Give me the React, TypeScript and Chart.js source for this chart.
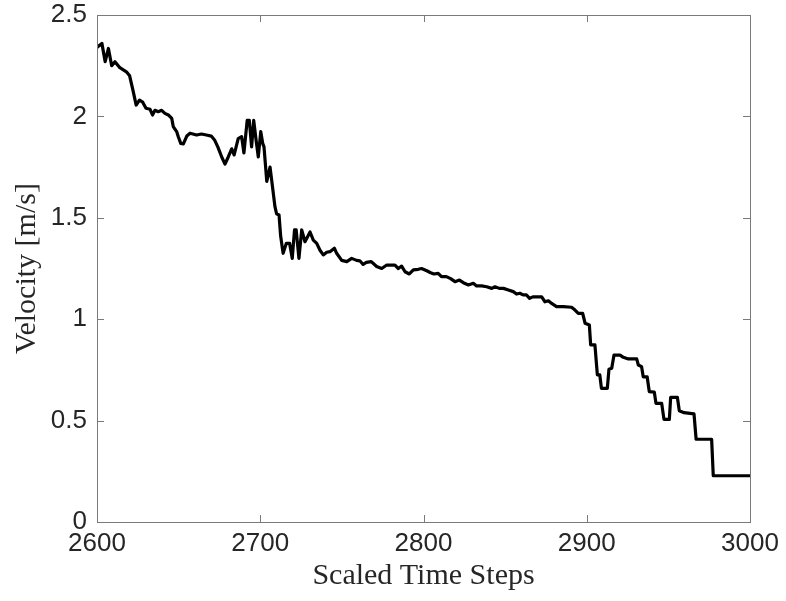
import React, { useEffect, useRef } from "react";
import { Chart, registerables } from "chart.js";

Chart.register(...registerables);

const timeSteps: number[] = [
  2600, 2603, 2605, 2607, 2609, 2611, 2614, 2618, 2620, 2622, 2624, 2626, 2628, 2630, 2632.5, 2634, 2635.5, 2637.5,
  2639.6, 2641.6, 2643.7, 2645.8, 2646.7, 2648.8, 2649.8, 2651.3, 2652.9, 2655, 2657, 2661, 2664, 2667, 2670, 2672,
  2674, 2676.4, 2678.4, 2680.4, 2682.5, 2684, 2686.5, 2688.6,
  2690, 2692, 2693.3, 2694.7, 2696, 2697.5, 2698.8, 2700.3, 2701.5, 2702.3, 2704, 2706, 2707, 2709, 2710, 2711.5,
  2712.5, 2714, 2716, 2718, 2719.6, 2721, 2722, 2723.7, 2725.4, 2727.4, 2730.5, 2732.5, 2734.6, 2736.6, 2738.6,
  2740.7, 2742.7, 2745.4, 2746.8, 2749.9, 2753, 2756, 2759, 2761, 2763, 2765, 2768, 2771.3, 2774.4, 2777.5,
  2782.5, 2784.6, 2786.6, 2788.7, 2791.3, 2793.8, 2796.8, 2798.8, 2802, 2804.4, 2806.4, 2809, 2811, 2814, 2816.6,
  2819.3, 2822, 2824.4, 2827.5, 2830.5, 2832.5, 2835.6, 2838.7, 2841.8, 2843.8, 2846.4, 2849, 2852, 2855, 2857,
  2859, 2861, 2863, 2865, 2867, 2872.4, 2874.4, 2876.5, 2878.5, 2881.5,
  2885.6, 2890.7, 2892.8, 2894.8, 2897.5, 2899, 2901.6, 2902.4, 2905, 2906.5, 2908, 2909, 2912.6, 2913.6, 2915.3,
  2916.7, 2920.4, 2922.4, 2925.5, 2930.6, 2931.6, 2933.6, 2934.6, 2937, 2938.3, 2941.4, 2942.4, 2945.9, 2947.3,
  2950.6, 2951.4, 2955.5, 2956.7, 2959.6, 2965.7, 2967, 2976.5, 2977.5, 3000,
];

const velocity: number[] = [
  2.34, 2.36, 2.27, 2.335, 2.25, 2.27, 2.24, 2.22, 2.2, 2.13, 2.056, 2.08, 2.07, 2.04, 2.035, 2.007, 2.03, 2.023,
  2.03, 2.015, 2.007, 1.99, 1.95, 1.925, 1.9, 1.867, 1.864, 1.903, 1.917, 1.908, 1.913, 1.908, 1.903, 1.884,
  1.85, 1.8, 1.765, 1.8, 1.84, 1.81, 1.89, 1.9,
  1.82, 1.98, 1.98, 1.85, 1.98, 1.88, 1.8, 1.925, 1.867, 1.85, 1.68, 1.75, 1.686, 1.555, 1.52, 1.514,
  1.41, 1.325, 1.374, 1.374, 1.3, 1.44, 1.44, 1.3, 1.44, 1.382, 1.43, 1.39, 1.374, 1.34, 1.317,
  1.33, 1.333, 1.35, 1.325, 1.29, 1.284, 1.3, 1.29, 1.288, 1.27, 1.28, 1.284, 1.26, 1.25, 1.267,
  1.267, 1.25, 1.262, 1.234, 1.223, 1.243, 1.246, 1.25, 1.239, 1.229, 1.223, 1.226, 1.21, 1.21, 1.2,
  1.185, 1.193, 1.18, 1.169, 1.177, 1.164, 1.164, 1.16, 1.152, 1.16, 1.152, 1.152, 1.144, 1.136, 1.124,
  1.128, 1.12, 1.12, 1.103, 1.11, 1.11, 1.086, 1.091, 1.078, 1.062,
  1.062, 1.059, 1.045, 1.029, 1.029, 0.98, 0.971, 0.873, 0.873, 0.725, 0.725, 0.659, 0.659, 0.753, 0.758,
  0.823, 0.823, 0.812, 0.804, 0.804, 0.774, 0.766, 0.716, 0.716, 0.643, 0.64, 0.585, 0.585, 0.506,
  0.506, 0.615, 0.615, 0.549, 0.539, 0.533, 0.408, 0.408, 0.228, 0.228,
];

const xTicks: number[] = [2600, 2700, 2800, 2900, 3000];
const yTicks: number[] = [0, 0.5, 1, 1.5, 2, 2.5];
const xTitle = "Scaled Time Steps";
const yTitle = "Velocity [m/s]";

const boxPlugin = {
  id: "matlabBox",
  afterDraw(chart: any) {
    const { ctx, chartArea, scales } = chart;
    const { left, right, top, bottom } = chartArea;
    const tl = 7;
    ctx.save();
    ctx.strokeStyle = "#7a7a7a";
    ctx.lineWidth = 1;
    ctx.beginPath();
    xTicks.forEach((v) => {
      const px = Math.round(scales.x.getPixelForValue(v)) + 0.5;
      ctx.moveTo(px, bottom);
      ctx.lineTo(px, bottom - tl);
      ctx.moveTo(px, top);
      ctx.lineTo(px, top + tl);
    });
    yTicks.forEach((v) => {
      const py = Math.round(scales.y.getPixelForValue(v)) + 0.5;
      ctx.moveTo(left, py);
      ctx.lineTo(left + tl, py);
      ctx.moveTo(right, py);
      ctx.lineTo(right - tl, py);
    });
    ctx.stroke();
    ctx.strokeRect(Math.round(left) + 0.5, Math.round(top) + 0.5, Math.round(right - left), Math.round(bottom - top));
    ctx.restore();
  },
};

export default function App() {
  const ref = useRef<HTMLCanvasElement | null>(null);
  useEffect(() => {
    if (!ref.current) return;
    const chart = new Chart(ref.current, {
      type: "line",
      data: {
        labels: timeSteps,
        datasets: [
          {
            data: timeSteps.map((t, i) => ({ x: t, y: velocity[i] })),
            borderColor: "#000000",
            borderWidth: 3.2,
            pointRadius: 0,
            tension: 0,
            fill: false,
            borderJoinStyle: "round",
            borderCapStyle: "round",
          },
        ],
      },
      options: {
        animation: false,
        responsive: false,
        layout: { padding: { top: 15, right: 36, left: 0, bottom: 0 } },
        plugins: { legend: { display: false }, tooltip: { enabled: false } },
        scales: {
          x: {
            type: "linear",
            min: 2600,
            max: 3000,
            afterBuildTicks: (s: any) => {
              s.ticks = xTicks.map((v) => ({ value: v }));
            },
            afterFit: (s: any) => {
              s.height = 79;
              s.paddingLeft = 0;
              s.paddingRight = 0;
            },
            grid: { display: false, drawTicks: false },
            border: { display: false },
            ticks: {
              color: "#262626",
              font: { family: "Liberation Sans, Arial, sans-serif", size: 26 },
              padding: 6,
              maxRotation: 0,
              callback: (v: any) => String(v),
            },
            title: {
              display: true,
              text: xTitle,
              color: "#262626",
              font: { family: "Liberation Serif, serif", size: 30 },
              padding: { top: 0, bottom: 7 },
            },
          },
          y: {
            type: "linear",
            min: 0,
            max: 2.5,
            afterBuildTicks: (s: any) => {
              s.ticks = yTicks.map((v) => ({ value: v }));
            },
            afterFit: (s: any) => {
              s.width = 97;
              s.paddingTop = 0;
              s.paddingBottom = 0;
            },
            grid: { display: false, drawTicks: false },
            border: { display: false },
            ticks: {
              color: "#262626",
              font: { family: "Liberation Sans, Arial, sans-serif", size: 26 },
              padding: 10,
              callback: (v: any) => String(v),
            },
            title: {
              display: true,
              text: yTitle,
              color: "#262626",
              font: { family: "Liberation Serif, serif", size: 30 },
              padding: { top: 9, bottom: 0 },
            },
          },
        },
      },
      plugins: [boxPlugin],
    } as any);
    return () => chart.destroy();
  }, []);
  return (
    <div style={{ position: "fixed", left: 0, top: 0, width: 786, height: 601, background: "#fff" }}>
      <canvas ref={ref} width={786} height={601} style={{ display: "block" }} />
    </div>
  );
}
